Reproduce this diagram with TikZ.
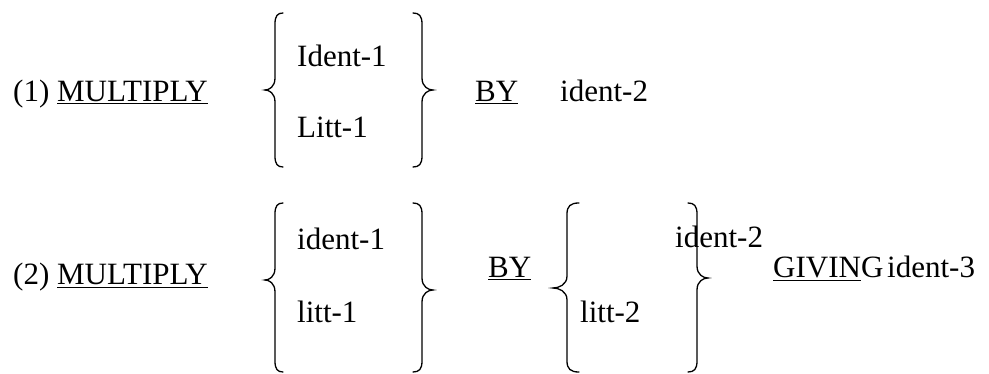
\documentclass[tikz,border=0pt]{standalone}
\usepackage{fontspec}
\setmainfont{LiberationSerif-Regular.ttf}

\tikzset{
  word/.style={anchor=base west, inner sep=0pt, font=\fontsize{31}{37}\selectfont},
  brace/.style={line width=1.3pt, line cap=round}
}

% curly brace: arm x, top y, tip y, bottom y, hook, tip offset
\newcommand{\curlybr}[6]{%
  \draw[brace] ({#1+(#5)},{#2}) .. controls ({#1+(#5)*0.3},{#2}) and ({#1},{#2+3}) .. ({#1},{#2+11}) -- ({#1},{#3-12})
    .. controls ({#1},{#3-3}) and ({#1-(#6)*0.6},{#3}) .. ({#1-(#6)},{#3})
    .. controls ({#1-(#6)*0.6},{#3}) and ({#1},{#3+3}) .. ({#1},{#3+12})
    -- ({#1},{#4-11}) .. controls ({#1},{#4-3}) and ({#1+(#5)*0.3},{#4}) .. ({#1+(#5)},{#4});}

\begin{document}
\begin{tikzpicture}[x=1pt, y=-1pt]
  \useasboundingbox (0,0) rectangle (989,374);

  % first form
  \node[word] (n1) at (13,102) {(1) \underline{MULTIPLY}};
  \node[word] (a1) at (297,67) {Ident-1};
  \node[word] (b1) at (297,138) {Litt-1};
  \node[word] (by1) at (475,102) {\underline{BY}};
  \node[word] (c1) at (560,102) {ident-2};
  \curlybr{275}{13}{90}{167}{8}{10}
  \curlybr{422}{13}{90}{167}{-9}{-11}

  % second form
  \node[word] (n2) at (13,285) {(2) \underline{MULTIPLY}};
  \node[word] (a2) at (297,250) {ident-1};
  \node[word] (b2) at (297,323) {litt-1};
  \node[word] (by2) at (488,278) {\underline{BY}};
  \node[word] (a3) at (675,248) {ident-2};
  \node[word] (b3) at (580,323) {litt-2};
  \node[word] (gv) at (773,278) {\underline{GIVIN}G};
  \node[word] (c2) at (887,278) {ident-3};
  \curlybr{275}{203}{280}{372}{8}{10}
  \curlybr{422}{203}{290}{372}{-9}{-11}
  \curlybr{567}{203}{288}{372}{12}{14}
  \curlybr{697}{203}{278}{372}{-9}{-11}
\end{tikzpicture}
\end{document}
